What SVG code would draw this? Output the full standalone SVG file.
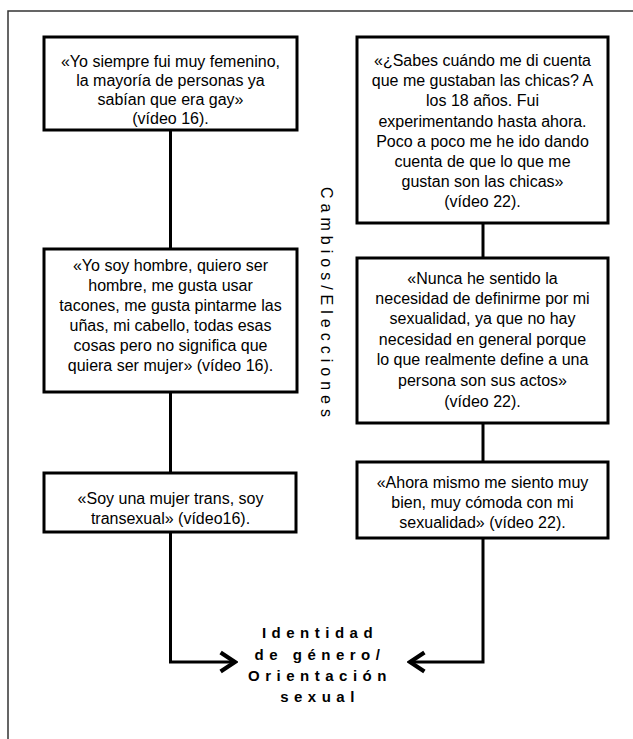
<svg xmlns="http://www.w3.org/2000/svg" width="633" height="739" viewBox="0 0 633 739">
<style>
.box{fill:#fff;stroke:#000;stroke-width:3}
.t{font-family:"Liberation Sans",Arial,sans-serif;font-size:16px;fill:#000;text-anchor:middle}
.c{fill:none;stroke:#000;stroke-width:3}
.hd{font-family:"Liberation Sans",Arial,sans-serif;font-size:15px;font-weight:bold;fill:#000;text-anchor:middle;letter-spacing:5.5px}
.vt{font-family:"Liberation Sans",Arial,sans-serif;font-size:16px;fill:#000;text-anchor:middle;letter-spacing:5px}
</style>
<defs>
<marker id="ah" markerUnits="userSpaceOnUse" markerWidth="20" markerHeight="24" viewBox="-14 -10 16 20" refX="0" refY="0" orient="auto">
<path d="M-12,-8 L0,0 L-12,8" fill="none" stroke="#000" stroke-width="3.5"/>
</marker>
</defs>
<rect width="633" height="739" fill="#fff"/>
<g id="frame" fill="none" stroke="#333" stroke-width="1.5">
<path d="M8,739 L8,11 L633,11"/>
</g>
<g id="connectors">
<path class="c" d="M170.5,130 L170.5,249"/>
<path class="c" d="M170.5,392 L170.5,473"/>
<path class="c" d="M170.5,532 L170.5,662 L235,662" marker-end="url(#ah)"/>
<path class="c" d="M483,223 L483,258"/>
<path class="c" d="M483,423 L483,462"/>
<path class="c" d="M483,538 L483,662 L410,662" marker-end="url(#ah)"/>
</g>
<g id="L1">
<rect class="box" x="44" y="37" width="253" height="93"/>
<text class="t"><tspan x="170.5" y="67">«Yo siempre fui muy femenino,</tspan><tspan x="170.5" y="86">la mayoría de personas ya</tspan><tspan x="170.5" y="105">sabían que era gay»</tspan><tspan x="170.5" y="124">(vídeo 16).</tspan></text>
</g>
<g id="L2">
<rect class="box" x="44" y="249" width="253" height="143"/>
<text class="t"><tspan x="170.5" y="271">«Yo soy hombre, quiero ser</tspan><tspan x="170.5" y="291">hombre, me gusta usar</tspan><tspan x="170.5" y="311">tacones, me gusta pintarme las</tspan><tspan x="170.5" y="331">uñas, mi cabello, todas esas</tspan><tspan x="170.5" y="351">cosas pero no significa que</tspan><tspan x="170.5" y="371">quiera ser mujer» (vídeo 16).</tspan></text>
</g>
<g id="L3">
<rect class="box" x="44" y="473" width="252" height="59"/>
<text class="t"><tspan x="170.5" y="504">«Soy una mujer trans, soy</tspan><tspan x="170.5" y="524">transexual» (vídeo16).</tspan></text>
</g>
<g id="R1">
<rect class="box" x="357" y="37" width="251" height="186"/>
<text class="t"><tspan x="482.5" y="66">«¿Sabes cuándo me di cuenta</tspan><tspan x="482.5" y="86">que me gustaban las chicas? A</tspan><tspan x="482.5" y="106">los 18 años. Fui</tspan><tspan x="482.5" y="127">experimentando hasta ahora.</tspan><tspan x="482.5" y="147">Poco a poco me he ido dando</tspan><tspan x="482.5" y="167">cuenta de que lo que me</tspan><tspan x="482.5" y="187">gustan son las chicas»</tspan><tspan x="482.5" y="207">(vídeo 22).</tspan></text>
</g>
<g id="R2">
<rect class="box" x="357" y="258" width="251" height="165"/>
<text class="t"><tspan x="482.5" y="284">«Nunca he sentido la</tspan><tspan x="482.5" y="304">necesidad de definirme por mi</tspan><tspan x="482.5" y="324">sexualidad, ya que no hay</tspan><tspan x="482.5" y="345">necesidad en general porque</tspan><tspan x="482.5" y="365">lo que realmente define a una</tspan><tspan x="482.5" y="386">persona son sus actos»</tspan><tspan x="482.5" y="407">(vídeo 22).</tspan></text>
</g>
<g id="R3">
<rect class="box" x="357" y="462" width="251" height="76"/>
<text class="t"><tspan x="482.5" y="488">«Ahora mismo me siento muy</tspan><tspan x="482.5" y="508">bien, muy cómoda con mi</tspan><tspan x="482.5" y="528">sexualidad» (vídeo 22).</tspan></text>
</g>
<g id="vlabel">
<text class="vt" transform="translate(321,302) rotate(90)" x="2.5" y="0">Cambios/Elecciones</text>
</g>
<g id="target">
<text class="hd"><tspan x="320" y="638">Identidad</tspan><tspan x="320" y="660">de género/</tspan><tspan x="320" y="681">Orientación</tspan><tspan x="320" y="702">sexual</tspan></text>
</g>
</svg>
